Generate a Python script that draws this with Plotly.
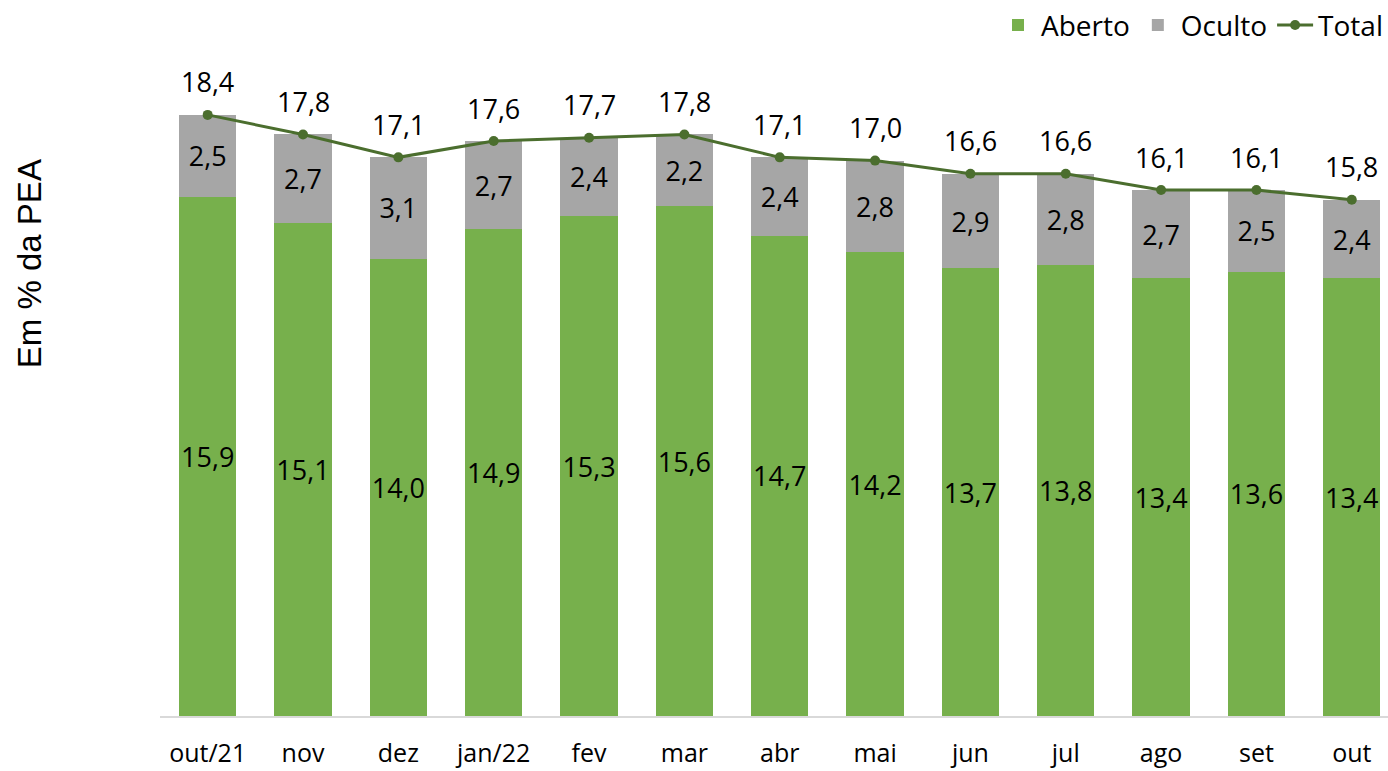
import plotly.graph_objects as go

categories = ["out/21", "nov", "dez", "jan/22", "fev", "mar", "abr", "mai", "jun", "jul", "ago", "set", "out"]
aberto = [15.9, 15.1, 14.0, 14.9, 15.3, 15.6, 14.7, 14.2, 13.7, 13.8, 13.4, 13.6, 13.4]
oculto = [2.5, 2.7, 3.1, 2.7, 2.4, 2.2, 2.4, 2.8, 2.9, 2.8, 2.7, 2.5, 2.4]
total = [18.4, 17.8, 17.1, 17.6, 17.7, 17.8, 17.1, 17.0, 16.6, 16.6, 16.1, 16.1, 15.8]

def fmt(v):
    return f"{v:.1f}".replace(".", ",")

font_family = "Open Sans, Noto Sans, sans-serif"
label_size = 27

fig = go.Figure()
fig.add_trace(go.Bar(
    x=categories, y=aberto, name="Aberto",
    marker=dict(color="#77b04c", line=dict(width=0)),
    text=[fmt(v) for v in aberto], textposition="inside", insidetextanchor="middle",
    textangle=0, constraintext="none",
    textfont=dict(size=label_size, color="#000000", family=font_family),
    width=0.6,
))
fig.add_trace(go.Bar(
    x=categories, y=oculto, name="Oculto",
    marker=dict(color="#a6a6a6", line=dict(width=0)),
    text=[fmt(v) for v in oculto], textposition="inside", insidetextanchor="middle",
    textangle=0, constraintext="none",
    textfont=dict(size=label_size, color="#000000", family=font_family),
    width=0.6,
))
fig.add_trace(go.Scatter(
    x=categories, y=total, name="Total", mode="lines+markers",
    line=dict(color="#4b6e2e", width=3),
    marker=dict(color="#4b6e2e", size=10),
))
for c, v in zip(categories, total):
    fig.add_annotation(
        x=c, y=v, text=fmt(v), showarrow=False, yanchor="middle", yshift=33,
        font=dict(size=label_size, color="#000000", family=font_family),
    )

fig.update_layout(
    barmode="stack",
    width=1388, height=771,
    paper_bgcolor="white", plot_bgcolor="white",
    margin=dict(l=160, r=0, t=60, b=55, autoexpand=False),
    font=dict(family=font_family, color="#000000"),
    showlegend=True,
    legend=dict(orientation="h", x=1.0, xanchor="right", y=1.053, yanchor="middle",
                font=dict(size=28, family=font_family), traceorder="normal",
                bgcolor="rgba(0,0,0,0)", itemwidth=36),
    uniformtext=dict(minsize=label_size, mode="show"),
)
fig.update_xaxes(
    range=[-0.5, 12.38], showgrid=False, showline=True, linecolor="#d9d9d9", linewidth=1.5,
    ticks="", ticklabelstandoff=14, tickfont=dict(size=25, family=font_family, color="#000000"),
)
fig.update_yaxes(
    range=[0, 20.08], showgrid=False, showticklabels=False, zeroline=False, showline=False,
    ticks="",
)
fig.add_annotation(
    text="Em % da PEA", xref="paper", yref="paper", x=-0.106, y=0.69, xanchor="center", yanchor="middle",
    textangle=-90, showarrow=False, font=dict(size=33, family="Liberation Sans, Arial, sans-serif", color="#000000"),
)

fig.write_html("out.html", config={"displayModeBar": False},
               post_script="document.body.style.margin='0';")
